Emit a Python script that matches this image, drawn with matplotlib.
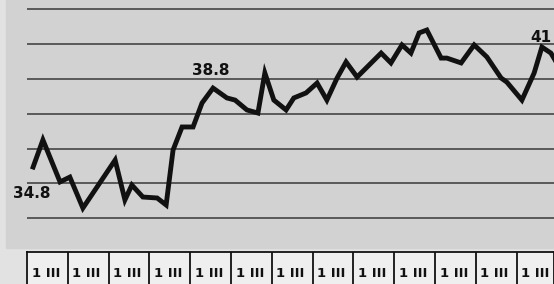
import numpy as np
import matplotlib.pyplot as plt
from matplotlib.patches import Rectangle

# weekly values, x in months from the start of the box row
months = [0.15, 0.39, 0.81, 1.05, 1.37, 2.16, 2.40, 2.57, 2.84, 3.19, 3.41,
          3.58, 3.80, 4.07, 4.29, 4.56, 4.90, 5.10, 5.39, 5.66, 5.83, 6.05,
          6.35, 6.54, 6.84, 7.11, 7.35, 7.60, 7.82, 8.09, 8.68, 8.92, 9.19,
          9.41, 9.61, 9.80, 10.15, 10.29, 10.64, 10.96, 11.27, 11.62, 11.76,
          12.13, 12.43, 12.62, 12.84, 12.97]
values = [34.85, 36.25, 34.08, 34.33, 32.73, 35.21, 33.15, 33.92, 33.30, 33.25,
          32.89, 35.73, 36.92, 36.92, 38.16, 38.93, 38.42, 38.31, 37.80, 37.64,
          39.71, 38.31, 37.80, 38.42, 38.68, 39.19, 38.31, 39.45, 40.28, 39.50,
          40.74, 40.23, 41.16, 40.74, 41.78, 41.93, 40.48, 40.48, 40.23, 41.16,
          40.54, 39.45, 39.24, 38.31, 39.71, 41.05, 40.74, 40.28]

grid_levels = [32.2, 34.0, 35.8, 37.6, 39.4, 41.2, 43.0]
cell_labels = ["1 III"] * 14

# labelled points: (index, text, offset in points)
callouts = [(0, "34.8", (-1, -19)), (15, "38.8", (-2, 13)), (45, "41", (-1, 7))]

W, H = 554, 284
fig = plt.figure(figsize=(W / 100, H / 100), dpi=100)
fig.patch.set_facecolor("#e2e2e2")

ax = fig.add_axes([27 / W, 1 - 248 / H, 527 / W, 248 / H])
ax.set_facecolor("none")
ax.set_xlim(0, 527 / 40.8)
ax.set_ylim(34.8 - 80 / 19.35, 34.8 + 168 / 19.35)
# darker printed panel behind the chart
ax.add_patch(Rectangle((-21 / 40.8, 0), 600 / 40.8, 1, transform=ax.get_xaxis_transform(),
                       color="#d2d2d2", zorder=0, clip_on=False))
for g in grid_levels:
    ax.axhline(g, color="#595959", lw=1.4, zorder=1)
ax.plot(months, values, color="#111111", lw=3.5, solid_joinstyle="miter", zorder=3)
for i, txt, off in callouts:
    ax.annotate(txt, (months[i], values[i]), xytext=off, textcoords="offset points",
                ha="center", va="center", fontsize=11, fontweight="bold",
                color="#111111", annotation_clip=False, zorder=4)
ax.axis("off")

# row of period boxes under the chart
bx = fig.add_axes([27 / W, -20 / H, 527 / W, 52 / H])
bx.set_facecolor("#efefef")
bx.set_xlim(0, 527 / 40.8)
bx.set_ylim(0, 1)
for k in range(1, 14):
    bx.axvline(k, color="#111111", lw=1.3)
for k, lab in enumerate(cell_labels):
    bx.text(k + 0.46, 0.58, lab, ha="center", va="center", fontsize=9.5,
            fontweight="bold", color="#111111")
bx.set_xticks([])
bx.set_yticks([])
for s in bx.spines.values():
    s.set_linewidth(1.3)
    s.set_color("#111111")

fig.savefig("out.png", dpi=100)
